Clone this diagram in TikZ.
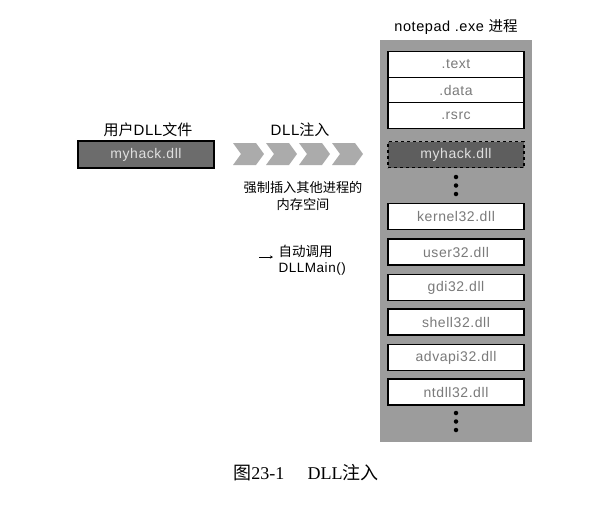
\documentclass[tikz,border=0pt]{standalone}
\usepackage{fontspec}
\setmainfont{Liberation Sans}[LetterSpace=4]
\newfontfamily\cjk{Noto Sans CJK SC}
\newfontfamily\capfont{Liberation Serif}
\usetikzlibrary{arrows.meta}
\definecolor{colgray}{HTML}{9C9C9C}
\definecolor{boxgray}{HTML}{6C6C6C}
\definecolor{injgray}{HTML}{5E5E5E}
\definecolor{chevgray}{HTML}{ABABAB}
\definecolor{segtext}{HTML}{7A7A7A}
\begin{document}
\begin{tikzpicture}[x=1pt,y=-1pt,
  seg/.style={draw=black,line width=1.3pt,fill=white,minimum width=136pt,
    minimum height=26pt,inner sep=0pt,text=segtext,font=\fontsize{14}{16}\selectfont},
  darkbox/.style={seg,fill=boxgray,text=white!88!black},
  dot/.style={circle,fill=black,inner sep=0pt,minimum size=4.5pt},
  label/.style={font=\fontsize{15}{18}\selectfont}]
\useasboundingbox (0,0) rectangle (605,504);

\node[fill=colgray,minimum width=152pt,minimum height=402pt,inner sep=0pt] (proc) at (456,241) {};
\node[label,font=\fontsize{14.5}{18}\selectfont] (title) at (456,27) {notepad .exe {\cjk 进程}};

\node[seg,minimum height=25.5pt] (text) at (456,64.5) {.text};
\node[seg,minimum height=25.5pt] (data) at (456,90) {.data};
\node[seg,minimum height=25.5pt] (rsrc) at (456,115.5) {.rsrc};
\node[darkbox,fill=injgray,dashed] (inject) at (456,154.5) {myhack.dll};
\node[dot] (d1) at (456,177) {};
\node[dot] (d2) at (456,185.5) {};
\node[dot] (d3) at (456,194) {};
\node[seg] (kernel) at (456,216.5) {kernel32.dll};
\node[seg] (user) at (456,252) {user32.dll};
\node[seg] (gdi) at (456,287.5) {gdi32.dll};
\node[seg] (shell) at (456,322) {shell32.dll};
\node[seg] (advapi) at (456,357.5) {advapi32.dll};
\node[seg] (ntdll) at (456,392) {ntdll32.dll};
\node[dot] (d4) at (456,413) {};
\node[dot] (d5) at (456,421.5) {};
\node[dot] (d6) at (456,430) {};

\node[label] (userdll) at (148,130) {{\cjk 用户}DLL{\cjk 文件}};
\node[darkbox,minimum height=27pt] (myhack) at (146,154.5) {myhack.dll};

\node[label] (injlabel) at (300,130) {DLL{\cjk 注入}};
\fill[chevgray] (233,143) -- (256,143) -- (264,154) -- (256,165) -- (233,165) -- (241,154) -- cycle;
\fill[chevgray] (266,143) -- (289,143) -- (297,154) -- (289,165) -- (266,165) -- (274,154) -- cycle;
\fill[chevgray] (299,143) -- (322,143) -- (330,154) -- (322,165) -- (299,165) -- (307,154) -- cycle;
\fill[chevgray] (332,143) -- (355,143) -- (363,154) -- (355,165) -- (332,165) -- (340,154) -- cycle;

\node[label,align=center,font=\cjk\fontsize{13.2}{17}\selectfont] (force) at (303,196) {强制插入其他进程的\\内存空间};

\node[label,align=left,anchor=west,font=\fontsize{13.5}{15.5}\selectfont] (autocall) at (275,260) {{\cjk 自动调用}\\DLLMain()};
\coordinate (callfrom) at (259,257);
\draw[line width=0.6pt,-{Stealth[length=3pt,width=3pt]},shorten >=2pt] (callfrom) -- (callfrom -| autocall.west);

\node[font=\fontsize{18}{21}\selectfont] (caption) at (306,473) {{\cjk 图}{\capfont 23-1\hspace{1.3em}DLL}{\cjk 注入}};
\end{tikzpicture}
\end{document}
